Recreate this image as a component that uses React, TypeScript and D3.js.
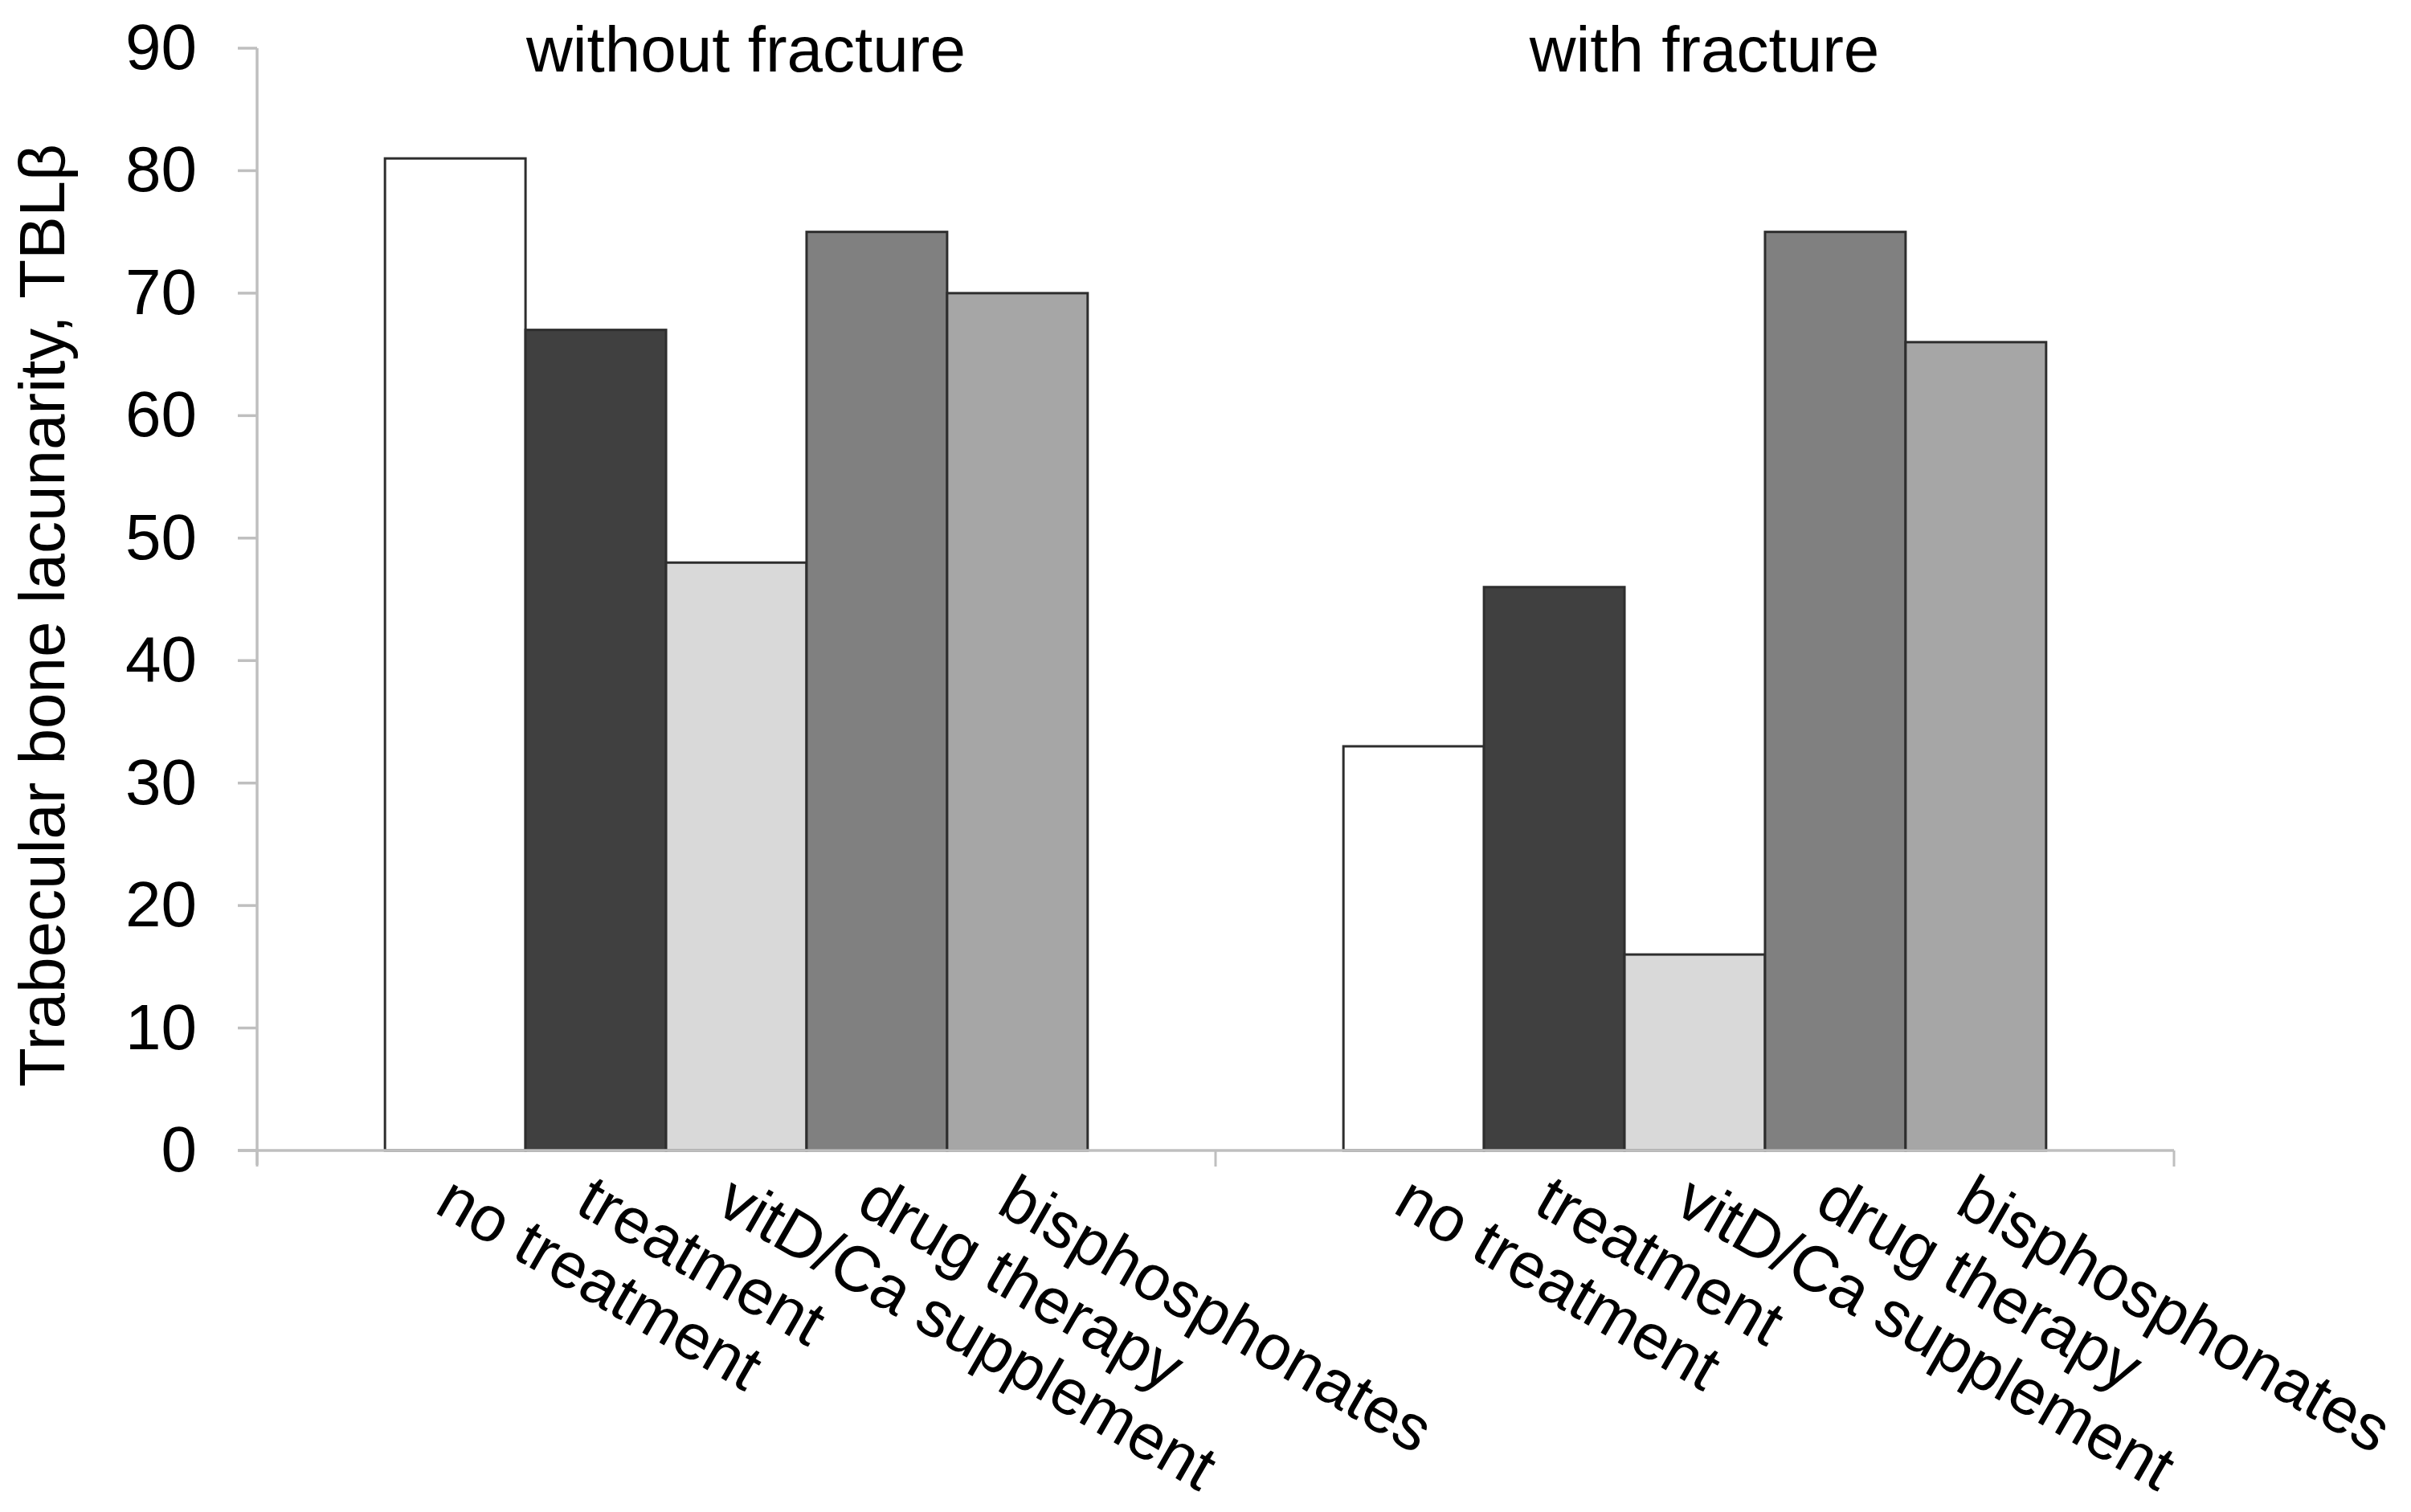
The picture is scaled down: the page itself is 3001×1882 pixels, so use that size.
import React from "react";
import * as d3 from "d3";

const groups = ["without fracture", "with fracture"];
const treatments = ["no treatment", "treatment", "vitD/Ca supplement", "drug therapy", "bisphosphonates"];
const withoutFracture = [81, 67, 48, 75, 70];
const withFracture = [33, 46, 16, 75, 66];
const seriesByGroup = [withoutFracture, withFracture];
const fills = ["#ffffff", "#404040", "#d9d9d9", "#808080", "#a6a6a6"];
const yTicks = [0, 10, 20, 30, 40, 50, 60, 70, 80, 90];
const yLabel = "Trabecular bone lacunarity, TBLβ";

const W = 3001;
const H = 1882;
const left = 320;
const right = 2706;
const top = 60;
const bottom = 1432;
const FONT = "'Liberation Sans', Arial, sans-serif";
const axisColor = "#bfbfbf";

export default function App() {
  const y = d3.scaleLinear().domain([0, 90]).range([bottom, top]);
  const x0 = d3.scaleBand<string>().domain(groups).range([left, right]).paddingInner(0).paddingOuter(0);
  const x1 = d3
    .scaleBand<string>()
    .domain(treatments)
    .range([0, x0.bandwidth()])
    .paddingInner(0)
    .paddingOuter(0.91);
  const bw = x1.bandwidth();
  const groupTicks = [left, ...groups.map((g) => (x0(g) as number) + x0.bandwidth())];

  return (
    <svg
      width={W}
      height={H}
      viewBox={`0 0 ${W} ${H}`}
      style={{ position: "absolute", left: 0, top: 0, display: "block", background: "#fff" }}
      fontFamily={FONT}
    >
      <rect x={0} y={0} width={W} height={H} fill="#fff" />
      {/* y axis */}
      <line x1={left} x2={left} y1={y(90)} y2={bottom + 18} stroke={axisColor} strokeWidth={3.5} />
      {yTicks.map((t) => (
        <g key={t}>
          <line x1={left - 24} x2={left} y1={y(t)} y2={y(t)} stroke={axisColor} strokeWidth={3.5} />
          <text x={245} y={y(t) + 26} textAnchor="end" fontSize={80} fill="#000">
            {t}
          </text>
        </g>
      ))}
      {/* bars */}
      {groups.map((g, gi) => (
        <g key={g}>
          {treatments.map((t, ti) => {
            const v = seriesByGroup[gi][ti];
            const bx = (x0(g) as number) + (x1(t) as number);
            return (
              <rect
                key={t}
                x={bx}
                y={y(v)}
                width={bw}
                height={y(0) - y(v)}
                fill={fills[ti]}
                stroke="#2e2e2e"
                strokeWidth={3}
              />
            );
          })}
        </g>
      ))}
      {/* x axis */}
      <line x1={left - 24} x2={right} y1={bottom} y2={bottom} stroke={axisColor} strokeWidth={3.5} />
      {groupTicks.map((tx, i) => (
        <line key={i} x1={tx} x2={tx} y1={bottom} y2={bottom + 20} stroke={axisColor} strokeWidth={3} />
      ))}
      {/* group titles */}
      {groups.map((g) => (
        <text
          key={g}
          x={(x0(g) as number) + x0.bandwidth() / 2 + 12}
          y={89}
          textAnchor="middle"
          fontSize={80}
          fill="#000"
        >
          {g}
        </text>
      ))}
      {/* category labels */}
      {groups.map((g) =>
        treatments.map((t) => {
          const cx = (x0(g) as number) + (x1(t) as number) + bw / 2 - 28;
          const cy = 1508;
          return (
            <text
              key={g + t}
              transform={`translate(${cx},${cy}) rotate(30)`}
              textAnchor="start"
              fontSize={80}
              fill="#000"
            >
              {t}
            </text>
          );
        })
      )}
      {/* y label */}
      <text transform={`translate(80,766) rotate(-90)`} textAnchor="middle" fontSize={80} fill="#000">
        {yLabel}
      </text>
    </svg>
  );
}
